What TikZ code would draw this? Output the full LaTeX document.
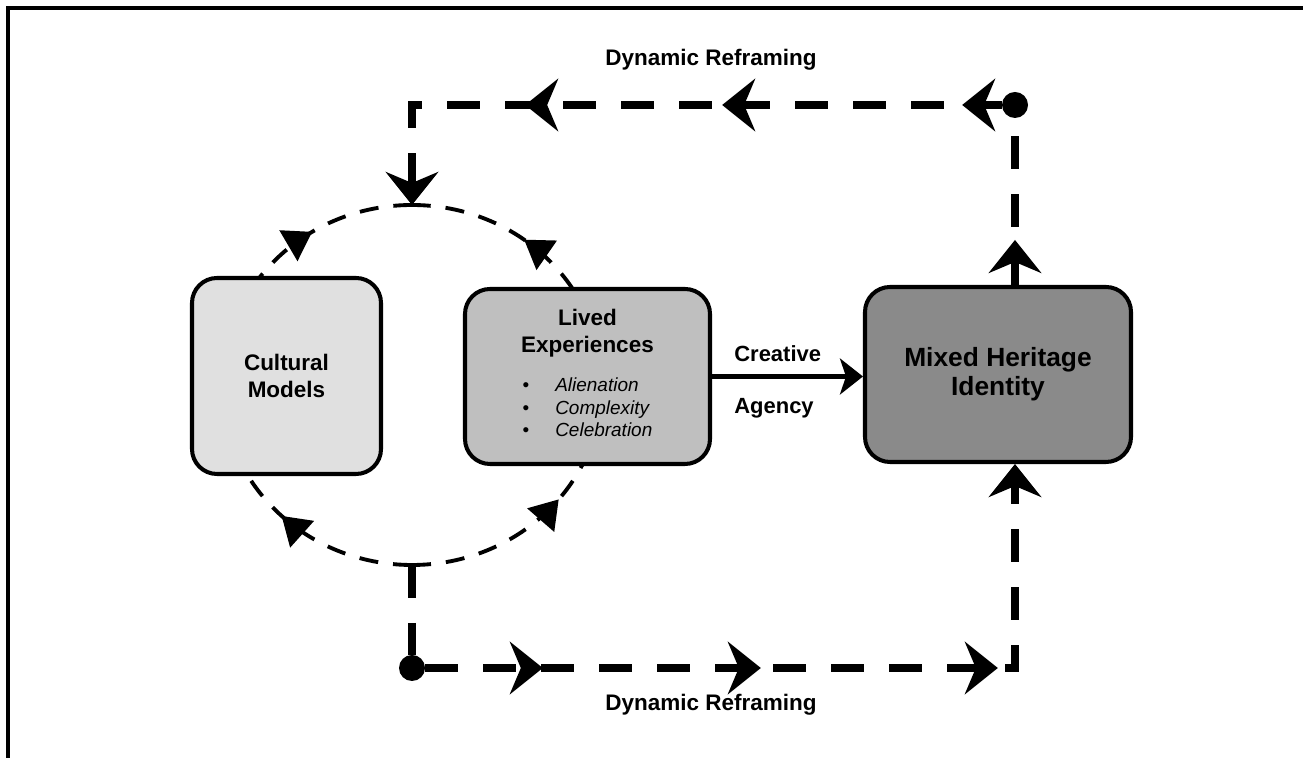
\documentclass[tikz,border=0pt]{standalone}
\usepackage{fontspec}
\setmainfont{Liberation Sans}
\usetikzlibrary{arrows.meta,decorations.markings,calc}

\definecolor{lightbox}{gray}{0.88}
\definecolor{midbox}{gray}{0.75}
\definecolor{darkbox}{gray}{0.54}

\begin{document}
\begin{tikzpicture}[
    box/.style={draw, line width=2.3pt, rounded corners=0.5cm, align=center, font=\fontsize{12.8}{15.3}\selectfont\bfseries},
    lbl/.style={font=\fontsize{12.8}{15}\selectfont\bfseries, inner sep=0pt},
    dotnode/.style={circle, fill=black, inner sep=0pt, minimum size=0.52cm},
    ring/.style={line width=2.2pt, dash pattern=on 0.38cm off 0.3cm},
    loopline/.style={line width=4pt, dash pattern=on 0.66cm off 0.5cm},
    bigtip/.tip={Stealth[length=0.66cm,width=1.05cm,inset=0.22cm]},
    ringtip/.tip={Triangle[length=0.55cm,width=0.7cm]},
    tipat/.style={postaction={decorate,decoration={markings,mark=at position #1 with {\arrow{bigtip}}}}},
    ringmark/.style={postaction={decorate,decoration={markings,mark=at position #1 with {\arrow{ringtip}}}}}
]
    \useasboundingbox (0,0) rectangle (26.06,15.16);
    \draw[line width=2pt] (0.16,0) -- (0.16,15.0) -- (26.06,15.0);

    \coordinate (hub) at (8.24,7.46);
    \coordinate (circtop) at (8.24,11.06);
    \coordinate (circbot) at (8.24,3.86);
    \draw[ring, ringmark=0.64] ([shift={(180:3.8 and 3.6)}]hub) arc[start angle=180, end angle=90, x radius=3.8, y radius=3.6];
    \draw[ring, ringmark=0.59] ([shift={(0:3.8 and 3.6)}]hub) arc[start angle=0, end angle=90, x radius=3.8, y radius=3.6];
    \draw[ring, ringmark=0.49] ([shift={(270:3.8 and 3.6)}]hub) arc[start angle=270, end angle=180, x radius=3.8, y radius=3.6];
    \draw[ring, ringmark=0.57] ([shift={(270:3.8 and 3.6)}]hub) arc[start angle=270, end angle=360, x radius=3.8, y radius=3.6];

    \node[box, fill=lightbox, minimum width=3.78cm, minimum height=3.92cm] (cultural) at (5.73,7.64) {Cultural\\Models};
    \node[box, fill=midbox, minimum width=4.9cm, minimum height=3.5cm] (lived) at (11.75,7.63) {Lived\\Experiences\\[7pt]
        {\fontsize{10.8}{12.8}\selectfont\mdseries
        \begin{tabular}[t]{@{}l@{\hspace{0.52cm}}l@{}}
        \textbullet & \textit{Alienation}\\
        \textbullet & \textit{Complexity}\\
        \textbullet & \textit{Celebration}
        \end{tabular}}};
    \node[box, fill=darkbox, minimum width=5.32cm, minimum height=3.5cm, font=\fontsize{15}{16.4}\selectfont\bfseries] (mixed) at (19.96,7.67) {Mixed Heritage\\Identity};

    \draw[line width=2.3pt, -{Stealth[length=0.46cm,width=0.72cm,inset=0.12cm]}] (lived.east) -- (lived.east -| mixed.west);
    \node[lbl, anchor=base west, font=\fontsize{12.5}{15}\selectfont\bfseries] (creative) at (14.68,7.92) {Creative};
    \node[lbl, anchor=base west, font=\fontsize{12.5}{15}\selectfont\bfseries] (agency) at (14.68,6.88) {Agency};

    \node[dotnode] (topdot) at (20.3,13.06) {};
    \node[dotnode] (botdot) at (8.24,1.8) {};
    \coordinate (topcorner) at (8.24,13.06);
    \coordinate (botcorner) at (20.3,1.8);
    \coordinate (mixtop) at (topdot |- mixed.north);
    \coordinate (mixbot) at (botcorner |- mixed.south);

    \draw[loopline, tipat=0.9cm] (mixtop) -- (topdot);
    \draw[loopline, tipat=0.79cm, tipat=5.59cm, tipat=9.53cm, -{bigtip}] (topdot) -- (topcorner) -- (circtop);
    \draw[loopline] (circbot) -- (botdot);
    \draw[loopline, tipat=2.35cm, tipat=6.71cm, tipat=11.45cm, -{bigtip}] (botdot) -- (botcorner) -- (mixbot);

    \node[lbl] (toplabel) at (14.22,13.96) {Dynamic Reframing};
    \node[lbl] (botlabel) at (14.22,1.06) {Dynamic Reframing};
\end{tikzpicture}
\end{document}
